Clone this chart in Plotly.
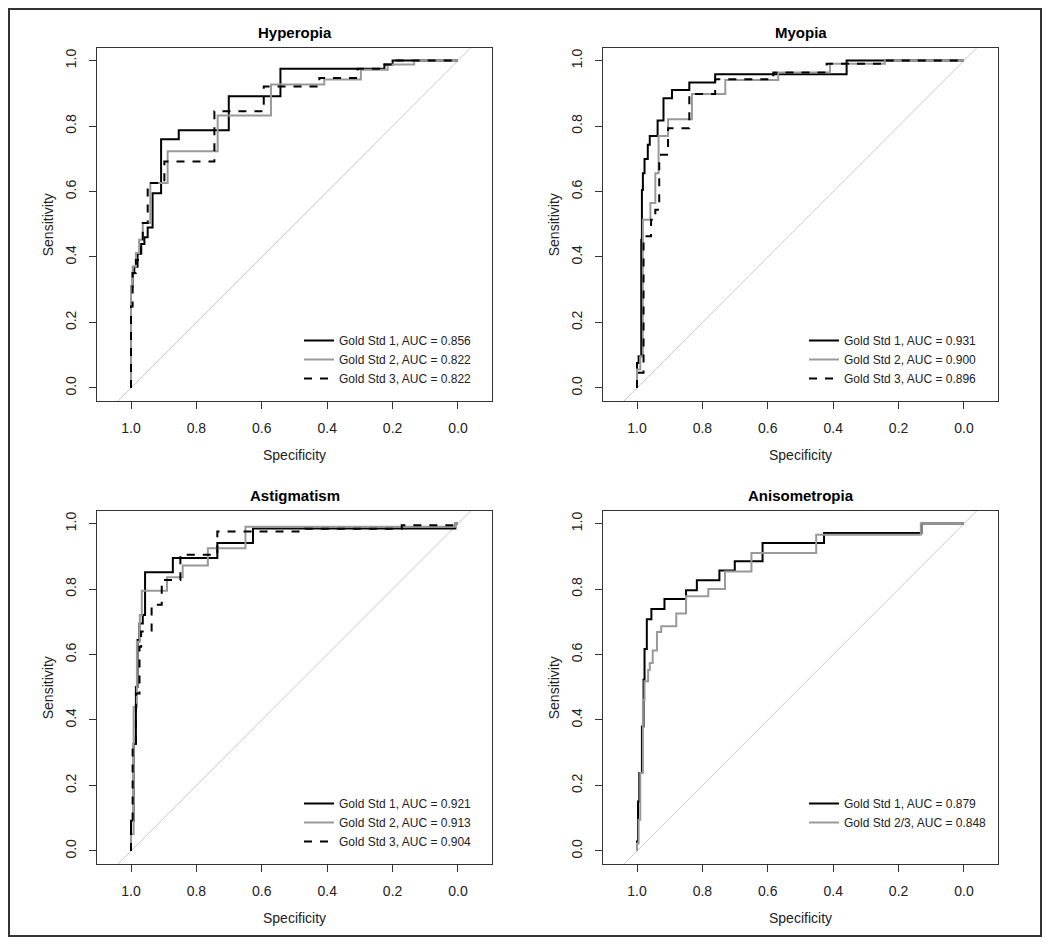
import plotly.graph_objects as go

# ---- data (specificity, sensitivity) ----
tick_vals = [1.0, 0.8, 0.6, 0.4, 0.2, 0.0]
tick_text = ['1.0', '0.8', '0.6', '0.4', '0.2', '0.0']

panel_titles = ['Hyperopia', 'Myopia', 'Astigmatism', 'Anisometropia']

# Hyperopia
hyp_gs1_spec = [1.0, 0.995, 0.99, 0.98, 0.969, 0.959, 0.949, 0.934, 0.908, 0.854, 0.701, 0.543, 0.225, 0.2, 0.0]
hyp_gs1_sens = [0.0, 0.31, 0.35, 0.37, 0.41, 0.44, 0.46, 0.49, 0.595, 0.76, 0.787, 0.891, 0.975, 0.988, 1.0]
hyp_gs2_spec = [1.0, 0.995, 0.985, 0.975, 0.964, 0.941, 0.888, 0.735, 0.572, 0.409, 0.297, 0.215, 0.134, 0.0]
hyp_gs2_sens = [0.0, 0.31, 0.371, 0.412, 0.453, 0.504, 0.626, 0.723, 0.832, 0.927, 0.942, 0.972, 0.988, 1.0]
hyp_gs3_spec = [1.0, 0.995, 0.985, 0.969, 0.964, 0.949, 0.898, 0.745, 0.594, 0.424, 0.307, 0.225, 0.2, 0.0]
hyp_gs3_sens = [0.0, 0.249, 0.351, 0.391, 0.453, 0.504, 0.626, 0.692, 0.845, 0.921, 0.947, 0.975, 0.988, 1.0]

# Myopia
myo_gs1_spec = [1.0, 0.995, 0.987, 0.985, 0.982, 0.977, 0.967, 0.961, 0.937, 0.919, 0.893, 0.840, 0.761, 0.359, 0.0]
myo_gs1_sens = [0.0, 0.076, 0.097, 0.453, 0.605, 0.656, 0.699, 0.743, 0.770, 0.817, 0.885, 0.910, 0.933, 0.958, 1.0]
myo_gs2_spec = [1.0, 0.99, 0.982, 0.959, 0.944, 0.934, 0.905, 0.832, 0.730, 0.568, 0.410, 0.242, 0.0]
myo_gs2_sens = [0.0, 0.056, 0.097, 0.514, 0.565, 0.656, 0.770, 0.821, 0.898, 0.941, 0.964, 0.990, 1.0]
myo_gs3_spec = [1.0, 0.98, 0.957, 0.944, 0.932, 0.905, 0.840, 0.761, 0.583, 0.420, 0.252, 0.0]
myo_gs3_sens = [0.0, 0.046, 0.463, 0.514, 0.544, 0.712, 0.793, 0.898, 0.943, 0.964, 0.990, 1.0]

# Astigmatism
ast_gs1_spec = [1.0, 0.992, 0.985, 0.980, 0.974, 0.964, 0.957, 0.872, 0.736, 0.627, 0.008, 0.0]
ast_gs1_sens = [0.0, 0.092, 0.327, 0.501, 0.644, 0.695, 0.721, 0.851, 0.895, 0.941, 0.985, 1.0]
ast_gs2_spec = [1.0, 0.992, 0.982, 0.973, 0.967, 0.890, 0.842, 0.765, 0.650, 0.008, 0.0]
ast_gs2_sens = [0.0, 0.051, 0.440, 0.639, 0.721, 0.795, 0.836, 0.872, 0.925, 0.990, 1.0]
ast_gs3_spec = [1.0, 0.995, 0.985, 0.974, 0.969, 0.937, 0.906, 0.849, 0.736, 0.468, 0.172, 0.006, 0.0]
ast_gs3_sens = [0.0, 0.092, 0.317, 0.481, 0.624, 0.670, 0.752, 0.828, 0.905, 0.976, 0.984, 0.995, 1.0]

# Anisometropia
ani_gs1_spec = [1.0, 0.997, 0.993, 0.985, 0.980, 0.977, 0.970, 0.956, 0.916, 0.850, 0.817, 0.748, 0.701, 0.616, 0.428, 0.130, 0.0]
ani_gs1_sens = [0.0, 0.029, 0.151, 0.238, 0.380, 0.523, 0.617, 0.708, 0.739, 0.770, 0.796, 0.827, 0.857, 0.885, 0.941, 0.971, 1.0]
ani_gs23_spec = [1.0, 0.995, 0.990, 0.982, 0.977, 0.966, 0.961, 0.952, 0.939, 0.926, 0.880, 0.850, 0.782, 0.731, 0.650, 0.452, 0.132, 0.0]
ani_gs23_sens = [0.0, 0.023, 0.095, 0.238, 0.462, 0.518, 0.553, 0.574, 0.612, 0.669, 0.686, 0.725, 0.778, 0.800, 0.854, 0.910, 0.966, 1.0]

auc_hyp = ['0.856', '0.822', '0.822']
auc_myo = ['0.931', '0.900', '0.896']
auc_ast = ['0.921', '0.913', '0.904']
auc_ani = ['0.879', '0.848']

FONT = 'Liberation Sans, Arial, sans-serif'
W, H = 1050, 945


def px(x):
    return x / W


def py(y):
    return 1 - y / H


styles = {
    'gs1': dict(color='#000000', width=2, dash='solid'),
    'gs2': dict(color='#999999', width=2, dash='solid'),
    'gs3': dict(color='#000000', width=2, dash='8px,8px'),
}

panels = [
    dict(title=panel_titles[0], box=(97, 47.5, 492, 401), legend_at=(299, 326),
         curves=[('gs1', 'Gold Std 1', auc_hyp[0], hyp_gs1_spec, hyp_gs1_sens),
                 ('gs2', 'Gold Std 2', auc_hyp[1], hyp_gs2_spec, hyp_gs2_sens),
                 ('gs3', 'Gold Std 3', auc_hyp[2], hyp_gs3_spec, hyp_gs3_sens)]),
    dict(title=panel_titles[1], box=(603, 47.5, 998, 401), legend_at=(804, 326),
         curves=[('gs1', 'Gold Std 1', auc_myo[0], myo_gs1_spec, myo_gs1_sens),
                 ('gs2', 'Gold Std 2', auc_myo[1], myo_gs2_spec, myo_gs2_sens),
                 ('gs3', 'Gold Std 3', auc_myo[2], myo_gs3_spec, myo_gs3_sens)]),
    dict(title=panel_titles[2], box=(97, 510.5, 492, 864), legend_at=(299, 789),
         curves=[('gs1', 'Gold Std 1', auc_ast[0], ast_gs1_spec, ast_gs1_sens),
                 ('gs2', 'Gold Std 2', auc_ast[1], ast_gs2_spec, ast_gs2_sens),
                 ('gs3', 'Gold Std 3', auc_ast[2], ast_gs3_spec, ast_gs3_sens)]),
    dict(title=panel_titles[3], box=(603, 510.5, 998, 864), legend_at=(804, 789),
         curves=[('gs1', 'Gold Std 1', auc_ani[0], ani_gs1_spec, ani_gs1_sens),
                 ('gs2', 'Gold Std 2/3', auc_ani[1], ani_gs23_spec, ani_gs23_sens)]),
]

fig = go.Figure()
annotations = []
layout_axes = {}

for i, p in enumerate(panels, start=1):
    sfx = '' if i == 1 else str(i)
    xa, ya = 'x' + sfx, 'y' + sfx
    leg = 'legend' + sfx
    x0, y0, x1, y1 = p['box']

    # chance diagonal
    fig.add_trace(go.Scatter(x=[1.2, -0.2], y=[-0.2, 1.2], mode='lines',
                             line=dict(color='#c8c8c8', width=1),
                             xaxis=xa, yaxis=ya, showlegend=False, hoverinfo='skip'))
    for key, name, auc, spec, sens in p['curves']:
        fig.add_trace(go.Scatter(x=spec, y=sens, mode='lines', line_shape='vh',
                                 line=styles[key], name=f'{name}, AUC = {auc}',
                                 xaxis=xa, yaxis=ya, legend=leg))

    axis_common = dict(showline=True, mirror=True, linecolor='#333333', linewidth=1,
                       ticks='outside', ticklen=7, tickcolor='#333333', tickwidth=1,
                       showgrid=False, zeroline=False, tickvals=tick_vals, ticktext=tick_text,
                       tickfont=dict(family=FONT, size=14, color='#222222'),
                       ticklabelstandoff=7, fixedrange=True)
    layout_axes['xaxis' + sfx] = dict(axis_common, domain=[px(x0), px(x1)], range=[1.104, -0.104],
                                      anchor=ya)
    layout_axes['yaxis' + sfx] = dict(axis_common, domain=[py(y1), py(y0)], range=[-0.04, 1.04],
                                      anchor=xa, tickangle=-90)
    layout_axes[leg] = dict(x=px(p['legend_at'][0]), y=py(p['legend_at'][1]),
                            xanchor='left', yanchor='top', bgcolor='rgba(0,0,0,0)',
                            font=dict(family=FONT, size=12, color='#222222'),
                            itemwidth=30, tracegroupgap=0)

    cx = (x0 + x1) / 2
    common = dict(xref='paper', yref='paper', showarrow=False, xanchor='center', yanchor='middle')
    annotations.append(dict(common, text='<b>' + p['title'] + '</b>', x=px(cx), y=py(y0 - 14.5),
                            font=dict(family=FONT, size=15, color='#000000')))
    annotations.append(dict(common, text='Specificity', x=px(cx), y=py(y1 + 54),
                            font=dict(family=FONT, size=14, color='#222222')))
    annotations.append(dict(common, text='Sensitivity', x=px(x0 - 49), y=py((y0 + y1) / 2 + 1),
                            textangle=-90, font=dict(family=FONT, size=14, color='#222222')))

fig.update_layout(
    width=W, height=H,
    margin=dict(l=0, r=0, t=0, b=0),
    paper_bgcolor='white', plot_bgcolor='white',
    annotations=annotations,
    shapes=[dict(type='rect', xref='paper', yref='paper',
                 x0=px(9), y0=py(936), x1=px(1041), y1=py(9),
                 line=dict(color='#333333', width=2))],
    **layout_axes,
)

fig.write_html('out.html', config={'displayModeBar': False},
               post_script="document.body.style.margin='0';document.body.style.overflow='hidden';")
